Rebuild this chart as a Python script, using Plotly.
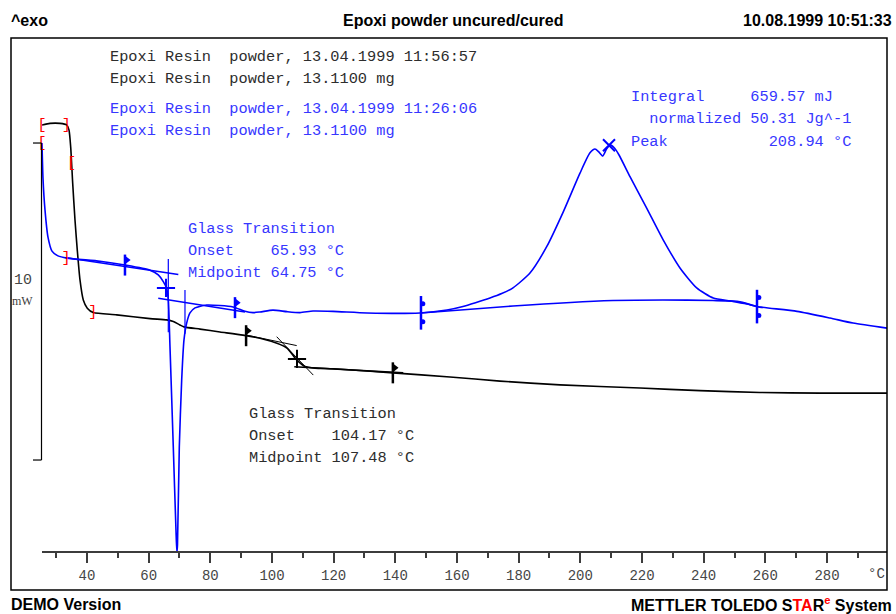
import numpy as np
import plotly.graph_objects as go

# ---------------- data (temperature in °C, heat flow in mW, arbitrary offset) -------------
black_T = [25.41, 28.0, 31.24, 33.42, 34.16, 34.71, 35.36, 36.11, 36.85, 37.73, 38.80, 40.10,
           42.04, 49.63, 60.43, 65.85, 68.0, 70.16, 71.46, 76.65, 83.14, 90.59, 96.11, 101.62,
           104.86, 108.11, 110.70, 113.95, 119.78, 139.24, 157.73, 173.95, 193.41, 219.35,
           238.81, 258.27, 277.73, 299.46]
black_mW = [13.44, 13.49, 13.49, 13.44, 13.28, 12.75, 11.61, 10.44, 9.50, 8.55, 7.92, 7.66,
            7.52, 7.45, 7.33, 7.29, 7.24, 7.13, 7.07, 7.00, 6.91, 6.81, 6.71, 6.55,
            6.40, 6.02, 5.82, 5.77, 5.75, 5.62, 5.49, 5.36, 5.24, 5.14,
            5.06, 5.00, 4.98, 4.98]

blue_T = [25.41, 25.73, 26.38, 27.35, 28.65, 30.59, 33.51, 44.22, 52.32, 60.43, 63.12, 64.75,
          65.82, 66.37, 66.92, 67.99, 68.86, 69.16, 69.35, 69.94, 70.71, 71.46, 72.33, 73.40,
          75.03, 78.82, 87.35, 91.24, 93.84, 96.11, 100.32, 104.86, 109.08, 113.30, 119.78,
          130.81, 148.0, 156.76, 161.94, 166.0, 170.70, 174.5, 178.16, 183.67, 189.09, 194.47,
          199.89, 203.13, 204.75, 205.9, 207.25, 208.5, 209.62, 211.0, 212.5, 216.11, 221.52,
          226.91, 232.32, 237.74, 243.12, 248.63, 254.05, 257.30, 270.27, 280.97, 288.43, 299.46]
blue_mW = [12.87, 11.76, 10.76, 9.90, 9.46, 9.31, 9.24, 9.14, 9.02, 8.86, 8.71, 8.50,
           8.29, 7.92, 6.44, 3.28, 0.66, -0.06, 0.19, 3.28, 5.39, 6.66, 7.19, 7.51,
           7.67, 7.76, 7.70, 7.56, 7.52, 7.54, 7.60, 7.55, 7.52, 7.57, 7.56,
           7.51, 7.51, 7.60, 7.71, 7.83, 7.98, 8.12, 8.30, 8.77, 9.60, 10.70,
           11.92, 12.56, 12.68, 12.60, 12.46, 12.68, 12.81, 12.72, 12.50, 11.81, 10.82,
           9.81, 8.93, 8.30, 7.98, 7.89, 7.79, 7.71, 7.56, 7.35, 7.19, 7.03]

# integration baseline of the exothermic cure peak
base_T = [148.32, 178.16, 210.59, 226.81, 243.03, 251.78, 257.30]
base_mW = [7.51, 7.73, 7.90, 7.92, 7.90, 7.86, 7.71]

# glass transition evaluation (cured / blue)
blue_tan1_T, blue_tan1_mW = [33.42, 69.62], [9.25, 8.72]
blue_tan2_T, blue_tan2_mW = [63.12, 91.24], [7.97, 7.54]
blue_vert_T = [66.37, 71.78]
blue_vert_top = [9.21, 8.23]
blue_vert_bot = [6.9, 6.85]
blue_mid_T, blue_mid_mW = [65.62], [8.30]

# glass transition evaluation (uncured / black)
black_tan1_T, black_tan1_mW = [91.79, 108.01], [6.81, 6.48]
black_tan2_T, black_tan2_mW = [101.52, 113.39], [6.76, 5.55]
black_tan3_T, black_tan3_mW = [107.23, 142.58], [5.81, 5.62]
black_mid_T, black_mid_mW = [108.11], [6.06]

# evaluation limit flags
blue_flag_T = [52.32, 88.0]
black_flag_T = [91.6, 139.2]
bracket_T = [148.32, 257.3]
peak_T, peak_mW = [209.3], [12.8]

# red integration-range brackets
red_black_T = [25.41, 33.3, 35.0, 41.9]
red_black_txt = ["[", "]", "[", "]"]
red_blue_T = [25.41, 33.2]
red_blue_txt = ["[", "]"]

x_ticks = [40, 60, 80, 100, 120, 140, 160, 180, 200, 220, 240, 260, 280]

txt_black = ["Epoxi Resin  powder, 13.04.1999 11:56:57",
             "Epoxi Resin  powder, 13.1100 mg"]
txt_blue = ["Epoxi Resin  powder, 13.04.1999 11:26:06",
            "Epoxi Resin  powder, 13.1100 mg"]
txt_integral = ["Integral     659.57 mJ",
                "  normalized 50.31 Jg^-1",
                "Peak           208.94 °C"]
txt_tg_blue = ["Glass Transition", "Onset    65.93 °C", "Midpoint 64.75 °C"]
txt_tg_black = ["Glass Transition", "Onset    104.17 °C", "Midpoint 107.48 °C"]

# ---------------- layout geometry ----------------
W, H = 896, 614
PL, PT, PW, PH = 42, 38, 845, 513
X_RANGE = [25.41, 299.46]
MW_PER_PX = 10.0 / 317.0
Y_RANGE = [0, PH * MW_PER_PX]


def fx(p):
    return (p - PL) / PW


def fy(p):
    return (PT + PH - p) / PH


BLUE = "rgb(0,0,255)"
TXT_BLUE = "rgb(55,55,255)"
TXT_BLACK = "rgb(45,45,45)"
MONO = "Liberation Mono, Courier New, monospace"

fig = go.Figure()


def line(xs, ys, color, width=1.0, smooth=False):
    ln = dict(color=color, width=width)
    if smooth:
        ln.update(shape="spline", smoothing=0.6)
    fig.add_trace(go.Scatter(x=xs, y=ys, mode="lines", line=ln,
                             hoverinfo="skip", showlegend=False))


# main curves
line(black_T, black_mW, "black", 1.6, smooth=True)
line(blue_T, blue_mW, BLUE, 1.6, smooth=True)
line(base_T, base_mW, BLUE, 1.6, smooth=True)

# tangents
line(blue_tan1_T, blue_tan1_mW, BLUE, 1.5)
line(blue_tan2_T, blue_tan2_mW, BLUE, 1.5)
for t, a, b in zip(blue_vert_T, blue_vert_top, blue_vert_bot):
    line([t, t], [a, b], BLUE, 1.2)
line(black_tan1_T, black_tan1_mW, "black", 1.0)
line(black_tan2_T, black_tan2_mW, "black", 1.0)
line(black_tan3_T, black_tan3_mW, "black", 1.6)

# midpoint crosses
fig.add_trace(go.Scatter(x=blue_mid_T, y=blue_mid_mW, mode="markers", showlegend=False,
                         marker=dict(symbol="cross-thin", size=13, line=dict(color=BLUE, width=2))))
fig.add_trace(go.Scatter(x=black_mid_T, y=black_mid_mW, mode="markers", showlegend=False,
                         marker=dict(symbol="cross-thin", size=13, line=dict(color="black", width=2))))
# peak X
fig.add_trace(go.Scatter(x=peak_T, y=peak_mW, mode="markers", showlegend=False,
                         marker=dict(symbol="x-thin", size=12, line=dict(color=BLUE, width=2))))


def flags(ts, xs, ys, color):
    yv = np.interp(ts, xs, ys)
    fig.add_trace(go.Scatter(x=ts, y=yv, mode="markers", showlegend=False,
                             marker=dict(symbol="line-ns", size=15, line=dict(color=color, width=2.5))))
    fig.add_trace(go.Scatter(x=np.array(ts) + 0.7, y=yv + 5 * MW_PER_PX, mode="markers",
                             showlegend=False,
                             marker=dict(symbol="triangle-right", size=7, color=color)))


flags(blue_flag_T, blue_T, blue_mW, BLUE)
flags(black_flag_T, black_T, black_mW, "black")

# bracket limits on the peak
yb = np.interp(bracket_T, blue_T, blue_mW)
fig.add_trace(go.Scatter(x=bracket_T, y=yb, mode="markers", showlegend=False,
                         marker=dict(symbol="line-ns", size=24, line=dict(color=BLUE, width=2.5))))
for s in (1, -1):
    fig.add_trace(go.Scatter(x=np.array(bracket_T) + 0.6, y=yb + s * 9 * MW_PER_PX, mode="markers",
                             showlegend=False, marker=dict(symbol="circle", size=5, color=BLUE)))

# red brackets
fig.add_trace(go.Scatter(x=red_black_T, y=np.interp(red_black_T, black_T, black_mW), mode="text",
                         text=red_black_txt, showlegend=False, cliponaxis=False,
                         textfont=dict(family=MONO, size=15, color="red")))
fig.add_trace(go.Scatter(x=red_blue_T, y=np.interp(red_blue_T, blue_T, blue_mW), mode="text",
                         text=red_blue_txt, showlegend=False, cliponaxis=False,
                         textfont=dict(family=MONO, size=15, color="red")))

shapes = []
# outer frame
shapes.append(dict(type="rect", xref="paper", yref="paper", x0=fx(11), x1=fx(887), y0=fy(590), y1=fy(38),
                   line=dict(color="black", width=1.5)))
# 10 mW scale bar
sb_top = 12.87
shapes.append(dict(type="line", xref="paper", yref="y", x0=fx(41.5), x1=fx(41.5), y0=sb_top, y1=sb_top - 10,
                   line=dict(color="black", width=1.2)))
for yy in (sb_top, sb_top - 10):
    shapes.append(dict(type="line", xref="paper", yref="y", x0=fx(33), x1=fx(41.5), y0=yy, y1=yy,
                       line=dict(color="black", width=1.2)))

ann = []


def text(x, y, s, size=15.3, color=TXT_BLACK, family=MONO, xa="left", bold=False):
    ann.append(dict(x=x, y=y, xref="paper", yref="paper", text=s, showarrow=False,
                    xanchor=xa, yanchor="middle",
                    font=dict(family=family, size=size, color=color,
                              weight="bold" if bold else "normal")))


for i, s in enumerate(txt_black):
    text(fx(108), fy(57 + 22 * i), s)
for i, s in enumerate(txt_blue):
    text(fx(108), fy(109 + 22 * i), s, color=TXT_BLUE)
for i, s in enumerate(txt_integral):
    text(fx(629), fy(97 + 22.5 * i), s, color=TXT_BLUE)
for i, s in enumerate(txt_tg_blue):
    text(fx(186), fy(229 + 22 * i), s, color=TXT_BLUE)
for i, s in enumerate(txt_tg_black):
    text(fx(247), fy(414 + 22 * i), s, color=TXT_BLACK)

text(fx(12), fy(280), "10", size=15, color="rgb(70,70,70)")
text(fx(10), fy(301), "mW", size=12, color="rgb(60,60,60)", family="Liberation Serif, serif")
text(fx(887), fy(574), "°C", size=14, color="rgb(70,70,70)", xa="right")

SANS = "Liberation Sans, Arial, sans-serif"
text(fx(9), fy(21), "^exo", size=16, color="black", family=SANS, bold=True)
text(fx(452.5), fy(21), "Epoxi powder uncured/cured", size=16, color="black", family=SANS,
     xa="center", bold=True)
text(fx(894), fy(21), "10.08.1999 10:51:33", size=16, color="black", family=SANS, xa="right", bold=True)
text(fx(9), fy(604), "DEMO Version", size=16, color="black", family=SANS, bold=True)
text(fx(894), fy(604),
     "METTLER TOLEDO S<span style='color:red'>TA</span>R<sup><span style='color:red'>e</span></sup> System",
     size=16, color="black", family=SANS, xa="right", bold=True)

fig.update_layout(
    width=W, height=H,
    margin=dict(l=PL, r=W - PL - PW, t=PT, b=H - PT - PH, pad=0),
    paper_bgcolor="white", plot_bgcolor="white",
    showlegend=False,
    shapes=shapes, annotations=ann,
    xaxis=dict(range=X_RANGE, showgrid=False, zeroline=False, showline=True,
               linecolor="rgb(60,60,60)", linewidth=2,
               tickmode="array", tickvals=x_ticks, ticktext=[str(v) for v in x_ticks],
               ticks="outside", ticklen=10, tickwidth=1.5, tickcolor="rgb(60,60,60)",
               minor=dict(tickmode="array", tickvals=[v - 10 for v in x_ticks] + [290],
                          ticks="outside", ticklen=5, tickwidth=1.5, tickcolor="rgb(60,60,60)"),
               tickfont=dict(family=MONO, size=14, color="rgb(70,70,70)"),
               fixedrange=True),
    yaxis=dict(range=Y_RANGE, visible=False, fixedrange=True),
)

fig.write_html("out.html")
